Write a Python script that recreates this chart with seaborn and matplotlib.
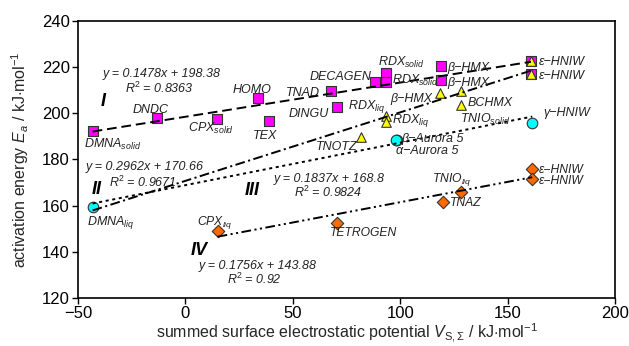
import matplotlib
matplotlib.use("Agg")
import matplotlib.pyplot as plt
import seaborn as sns
import pandas as pd

# ---------------- data ----------------
# Series I (squares)
sq_names = ["DMNA$_{solid}$", "DNDC", "CPX$_{solid}$", "HOMO", "TEX", "TNAD", "DINGU",
            "DECAGEN", "RDX$_{solid}$", "RDX$_{solid}$", "β−HMX", "β−HMX", "ε−HNIW", "ε−HNIW"]
sq_x = [-43.2, -13.1, 14.9, 33.7, 38.8, 67.6, 70.4, 88.1, 93.2, 93.2, 119.1, 119.1, 160.9, 160.9]
sq_y = [192.3, 197.9, 197.4, 206.6, 196.5, 209.7, 202.6, 213.2, 217.3, 213.2, 220.4, 214.1, 222.7, 217.0]

# Series II (triangles)
tr_names = ["TNOTZ", "RDX$_{liq}$", "RDX$_{liq}$", "β−HMX", "BCHMX", "TNIO$_{solid}$", "", ""]
tr_x = [81.9, 93.2, 93.2, 118.7, 128.3, 128.3, 160.9, 160.9]
tr_y = [189.6, 198.5, 196.3, 208.6, 209.7, 203.5, 222.7, 217.0]

# Series III (circles)
ci_names = ["DMNA$_{liq}$", "β−Aurora 5", "α−Aurora 5", "γ−HNIW"]
ci_x = [-43.2, 98.4, 98.2, 161.5]
ci_y = [159.5, 188.4, 188.2, 195.6]

# Series IV (diamonds)
di_names = ["CPX$_{liq}$", "TETROGEN", "TNAZ", "TNIO$_{liq}$", "ε−HNIW", "ε−HNIW"]
di_x = [15.0, 70.7, 119.8, 128.3, 161.5, 161.5]
di_y = [149.1, 152.6, 161.4, 166.0, 175.8, 171.5]

# Linear fits (slope, intercept, R^2) and fitted x-range
fit_labels = ["I", "II", "III", "IV"]
fit_slope = [0.1478, 0.2962, 0.1837, 0.1756]
fit_icpt = [198.38, 170.66, 168.8, 143.88]
fit_r2 = ["0.8363", "0.9671", "0.9824", "0.92"]
fit_xmin = [-43.2, -43.2, -43.2, 15.0]
fit_xmax = [160.9, 160.9, 161.5, 161.5]

x_ticks = [-50, 0, 50, 100, 150, 200]
y_ticks = [120, 140, 160, 180, 200, 220, 240]

# ---------------- layout (label offsets in pixels, alignment) ----------------
sq_lab = [(-9, -17.5, "left"), (-7, 4.5, "center"), (-29, -13, "left"), (-6, 4.5, "center"),
          (-4, -18, "center"), (-11, -5, "right"), (-8, -10, "right"), (-3, 2.7, "right"),
          (-8, 7.3, "left"), (6, -1, "left"), (6, -5.5, "left"), (6, -6, "left"),
          (8, -4.5, "left"), (8, -5.5, "left")]
tr_lab = [(-4, -13, "right"), (0, 8, "right"), (6, -1, "left"), (-8, -9, "right"),
          (7, -15, "left"), (-1, -17.5, "left"), (0, 0, "left"), (0, 0, "left")]
ci_lab = [(-6, -18, "left"), (5, -2.5, "left"), (0, -13.5, "left"), (11, 7, "left")]
di_lab = [(-21, 5.7, "left"), (-7, -13, "left"), (7, -4, "left"), (-29, 10, "left"),
          (7, -4.0, "left"), (7, -5.0, "left")]

sns.set_style("ticks")
plt.rcParams["font.family"] = ["Liberation Sans", "DejaVu Sans"]
plt.rcParams["mathtext.fontset"] = "custom"
plt.rcParams["mathtext.rm"] = "Liberation Sans"
plt.rcParams["mathtext.it"] = "Liberation Sans:italic"
plt.rcParams["mathtext.bf"] = "Liberation Sans:bold"
plt.rcParams["lines.scale_dashes"] = False

fig = plt.figure(figsize=(6.29, 3.46), dpi=100)
ax = fig.add_axes([0.124, 0.1387, 0.8537, 0.802])

series = [
    ("I", sq_names, sq_x, sq_y, sq_lab, "s", "#FF00FF", 62, 9),
    ("II", tr_names, tr_x, tr_y, tr_lab, "^", "#FFFF00", 48, 9),
    ("III", ci_names, ci_x, ci_y, ci_lab, "o", "#00FFFF", 58, 9),
    ("IV", di_names, di_x, di_y, di_lab, "D", "#FF6A00", 40, 8.7),
]

for sid, names, xs, ys, labs, mk, col, sz, fs in series:
    df = pd.DataFrame({"x": xs, "y": ys})
    sns.scatterplot(data=df, x="x", y="y", marker=mk, color=col, s=sz,
                    edgecolor="#333333", linewidth=0.8, ax=ax, zorder=3, legend=False)
    for nm, xv, yv, (dx, dy, ha) in zip(names, xs, ys, labs):
        if nm:
            ax.annotate(nm, (xv, yv), xytext=(dx, dy), textcoords="offset pixels",
                        ha=ha, va="baseline", fontsize=fs, fontstyle="italic",
                        color="#222222", zorder=5)

styles = [
    (0, (7, 3.5)),
    (0, (7, 2.5, 1.5, 2.5)),
    (0, (2.2, 2.6)),
    (0, (7, 2.5, 1.5, 2.5, 1.5, 2.5)),
]
for i in range(4):
    fx = [fit_xmin[i], fit_xmax[i]]
    fy = [fit_slope[i] * v + fit_icpt[i] for v in fx]
    sns.lineplot(x=fx, y=fy, ax=ax, color="black", linewidth=1.4,
                 linestyle=styles[i], zorder=4, legend=False)

# equations and roman labels
eq_pos = [(-38.4, 215.5), (-46.3, 175.4), (40.9, 170.1), (6.0, 132.6)]
r2_pos = [(-28.1, 208.7), (-35.6, 168.2), (50.6, 163.6), (19.2, 126.1)]
rn_pos = [(-38.4, 203.1), (-41.3, 164.9), (30.9, 164.7), (6.5, 138.5)]
for i in range(4):
    ax.text(*eq_pos[i], f"y = {fit_slope[i]}x + {fit_icpt[i]}", ha="left", va="baseline",
            fontsize=9, fontstyle="italic", color="#222222")
    ax.text(*r2_pos[i], f"R$^2$ = {fit_r2[i]}", ha="left", va="baseline",
            fontsize=9, fontstyle="italic", color="#222222")
    ax.text(*rn_pos[i], fit_labels[i], ha="center", va="baseline",
            fontsize=13, fontstyle="italic", fontweight="bold", color="black")

ax.set_xlim(-50, 200)
ax.set_ylim(120, 240)
ax.set_xticks(x_ticks)
ax.set_yticks(y_ticks)
ax.tick_params(direction="out", length=4, width=1, labelsize=12, colors="black",
               top=False, right=False, pad=2)
for s in ax.spines.values():
    s.set_visible(True)
    s.set_linewidth(1.2)
    s.set_color("black")

ax.set_xlabel(r"summed surface electrostatic potential $V_{\mathrm{S,\Sigma}}$ / kJ$\cdot$mol$^{-1}$",
              fontsize=11.5, labelpad=0)
ax.set_ylabel(r"activation energy $E_a$ / kJ$\cdot$mol$^{-1}$", fontsize=11.5, labelpad=8)

fig.savefig("out.png", dpi=100)
